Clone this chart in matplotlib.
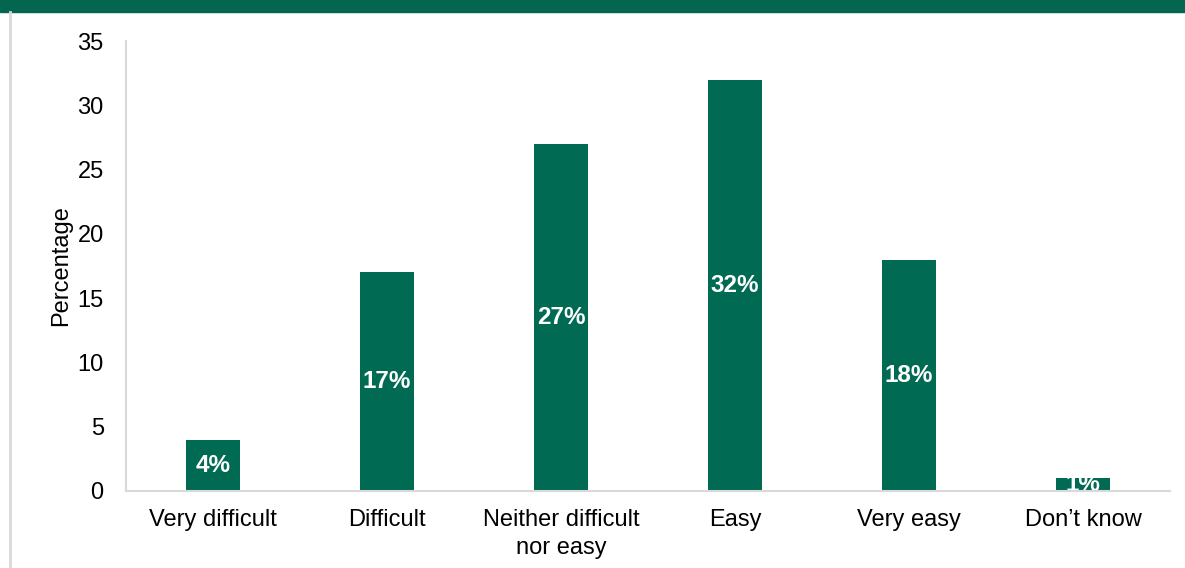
import matplotlib.pyplot as plt
from matplotlib.lines import Line2D
from matplotlib.patches import Rectangle

plt.rcParams['font.family'] = ['Liberation Sans', 'DejaVu Sans']

categories = ['Very difficult', 'Difficult', 'Neither difficult\nnor easy', 'Easy', 'Very easy', 'Don\u2019t know']
values = [4, 17, 27, 32, 18, 1]
labels = ['4%', '17%', '27%', '32%', '18%', '1%']

green = '#006a52'
grid_grey = '#d9d9d9'

fig = plt.figure(figsize=(11.85, 5.68), dpi=100)
ax = fig.add_axes([0.1063, 0.1356, 0.881, 0.7922])

x = list(range(len(categories)))
bars = ax.bar(x, values, width=0.315, color=green, zorder=2)

for xi, v, lab in zip(x, values, labels):
    ax.text(xi, v / 2, lab, ha='center', va='center', color='white',
            fontsize=17.5, fontweight='bold', zorder=3)

ax.set_xlim(-0.5, len(categories) - 0.5)
ax.set_ylim(0, 35)
ax.set_yticks(range(0, 36, 5))
ax.set_xticks(x)
ax.set_xticklabels(categories, fontsize=17, linespacing=1.35)
ax.tick_params(axis='y', labelsize=17, length=0, pad=16)
ax.tick_params(axis='x', length=0, pad=13)
ax.set_ylabel('Percentage', fontsize=17, labelpad=4)

for side in ['top', 'right']:
    ax.spines[side].set_visible(False)
for side in ['left', 'bottom']:
    ax.spines[side].set_color(grid_grey)
    ax.spines[side].set_linewidth(1.5)
    ax.spines[side].set_zorder(4)

# page decoration: green band on top and grey left border
fig.patches.append(Rectangle((0, 1 - 12 / 568), 1, 12 / 568, transform=fig.transFigure,
                             color='#04664f', zorder=0))
fig.lines.append(Line2D([9.5 / 1185, 9.5 / 1185], [0, 1 - 12 / 568], transform=fig.transFigure,
                        color=grid_grey, linewidth=2))

fig.savefig('out.png', dpi=100)
